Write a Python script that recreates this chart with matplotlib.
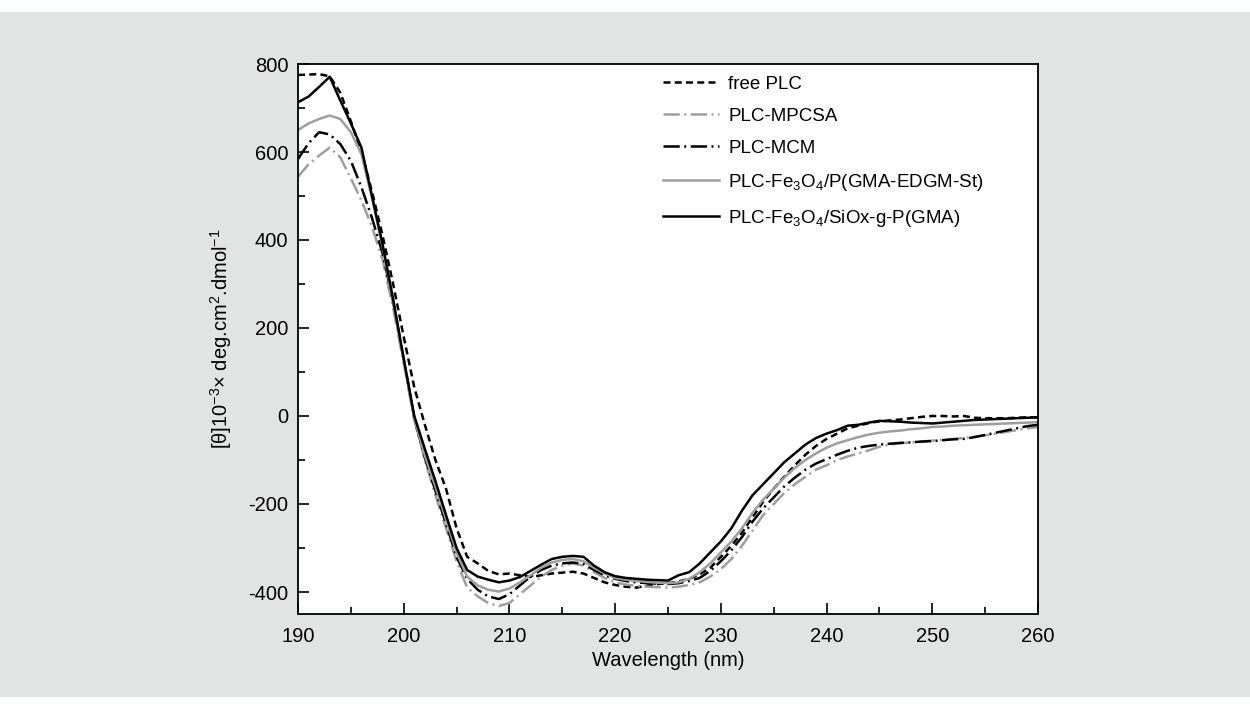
import numpy as np
import matplotlib
matplotlib.use("Agg")
import matplotlib.pyplot as plt
from matplotlib import font_manager
from matplotlib.patches import Rectangle

# ---------------------------------------------------------------
# DATOS (leidos del espectro CD)

longitud_onda = np.arange(190, 261)

free_plc = [775, 776, 777, 772, 735, 670, 600, 510, 410, 300,
            180, 65, -20, -100, -165, -255, -320, -335, -352, -360,
            -358, -362, -366, -362, -358, -356, -354, -358, -368, -378,
            -384, -388, -390, -386, -382, -380, -376, -370, -360, -345,
            -320, -295, -265, -230, -195, -165, -138, -112, -88, -68,
            -52, -40, -28, -22, -16, -12, -10, -8, -5, -2,
            0, 0, -1, 0, -4, -5, -5, -5, -4, -3, -3]

plc_mpcsa = [544, 572, 592, 610, 588, 540, 490, 430, 355, 245,
             120, -10, -100, -180, -255, -330, -390, -410, -425, -432,
             -425, -405, -385, -365, -350, -340, -335, -340, -355, -368,
             -378, -383, -386, -388, -389, -390, -388, -384, -378, -365,
             -348, -325, -295, -260, -225, -200, -175, -155, -138, -122,
             -112, -100, -92, -85, -78, -70, -65, -62, -60, -58,
             -56, -54, -52, -50, -47, -44, -40, -36, -32, -28, -25]

plc_mcm = [584, 620, 645, 640, 618, 580, 520, 450, 370, 260,
           130, -5, -95, -170, -245, -320, -370, -395, -410, -416,
           -405, -385, -365, -350, -340, -335, -333, -336, -350, -362,
           -370, -375, -378, -380, -381, -382, -380, -375, -368, -352,
           -330, -305, -275, -240, -210, -185, -160, -140, -122, -108,
           -98, -88, -79, -72, -68, -65, -63, -61, -60, -58,
           -57, -55, -53, -52, -48, -43, -38, -33, -28, -23, -20]

plc_fe3o4_pgma = [650, 665, 675, 683, 675, 645, 595, 495, 385, 260,
                  125, -5, -90, -160, -235, -310, -365, -385, -395, -399,
                  -392, -378, -362, -345, -333, -327, -325, -330, -345, -358,
                  -368, -372, -375, -377, -379, -380, -378, -370, -355, -335,
                  -310, -285, -255, -220, -190, -165, -140, -118, -100, -85,
                  -72, -62, -55, -48, -42, -38, -35, -33, -30, -28,
                  -25, -24, -22, -21, -20, -19, -18, -17, -16, -15, -14]

plc_fe3o4_siox = [713, 726, 748, 771, 717, 665, 610, 500, 390, 265,
                  130, 0, -75, -148, -225, -300, -350, -365, -372, -378,
                  -374, -366, -352, -338, -325, -320, -318, -320, -340, -355,
                  -364, -368, -370, -372, -373, -374, -362, -355, -335, -310,
                  -285, -255, -215, -180, -155, -130, -105, -85, -65, -50,
                  -40, -32, -22, -20, -15, -11, -12, -13, -15, -16,
                  -17, -15, -13, -11, -9, -8, -7, -6, -5, -4, -3]

etiquetas = ["free PLC",
             "PLC-MPCSA",
             "PLC-MCM",
             r"PLC-Fe$_3$O$_4$/P(GMA-EDGM-St)",
             r"PLC-Fe$_3$O$_4$/SiOx-g-P(GMA)"]

# ---------------------------------------------------------------
# FUENTE

nombres = {f.name for f in font_manager.fontManager.ttflist}
if "Liberation Sans Narrow" in nombres:
    familia = "Liberation Sans Narrow"
    t_tick, t_label, t_leg = 16, 16.5, 15
else:
    familia = "Liberation Sans"
    t_tick, t_label, t_leg = 14.5, 14.5, 13.5

plt.rcParams["font.family"] = [familia, "DejaVu Sans"]
plt.rcParams["mathtext.fontset"] = "custom"
plt.rcParams["mathtext.rm"] = familia
plt.rcParams["mathtext.it"] = familia
plt.rcParams["mathtext.default"] = "regular"
plt.rcParams["axes.unicode_minus"] = False

# ---------------------------------------------------------------
# FIGURA

fondo = "#e2e4e3"
gris = "#9e9e9e"

fig = plt.figure(figsize=(12.5, 7.09), dpi=100, facecolor="white")
fig.patches.append(Rectangle((0, 12 / 709), 1, 1 - 24 / 709, transform=fig.transFigure,
                             facecolor=fondo, edgecolor="none", zorder=-10))

ax = fig.add_axes([298 / 1250, 1 - 614 / 709, 740 / 1250, 550 / 709])
ax.set_facecolor("white")

l1, = ax.plot(longitud_onda, free_plc, color="black", lw=1.8)
l1.set_dashes((2.8, 1.7))
l2, = ax.plot(longitud_onda, plc_mpcsa, color=gris, lw=1.8)
l2.set_dashes((6.5, 1.8, 0.8, 1.8))
l3, = ax.plot(longitud_onda, plc_mcm, color="black", lw=1.8)
l3.set_dashes((6.5, 1.8, 0.8, 1.8))
l4, = ax.plot(longitud_onda, plc_fe3o4_pgma, color=gris, lw=1.8)
l5, = ax.plot(longitud_onda, plc_fe3o4_siox, color="black", lw=1.8)

ax.set_xlim(190, 260)
ax.set_ylim(-450, 800)
ax.set_xticks(np.arange(190, 261, 10))
ax.set_xticks(np.arange(195, 260, 10), minor=True)
ax.set_yticks(np.arange(-400, 801, 200))
ax.set_yticks(np.arange(-300, 800, 200), minor=True)
ax.tick_params(which="both", direction="in", top=False, right=False,
               labelsize=t_tick, width=1.2)
ax.tick_params(axis="x", pad=9)
ax.tick_params(axis="y", pad=7)
ax.tick_params(which="major", length=8)
ax.tick_params(which="minor", length=5)
for s in ax.spines.values():
    s.set_linewidth(1.3)

ax.set_xlabel("Wavelength (nm)", fontsize=t_label, labelpad=4)
ax.set_ylabel(r"[θ]10$^{-3}$× deg.cm$^{2}$.dmol$^{-1}$", fontsize=t_label, labelpad=10)

ax.legend([l1, l2, l3, l4, l5], etiquetas, loc="upper left",
          bbox_to_anchor=(655 / 1250, 1 - 68 / 709), bbox_transform=fig.transFigure,
          frameon=False, fontsize=t_leg, handlelength=3.0, handletextpad=0.5,
          labelspacing=0.8, borderaxespad=0)

fig.savefig("out.png", dpi=100, facecolor=fig.get_facecolor())
